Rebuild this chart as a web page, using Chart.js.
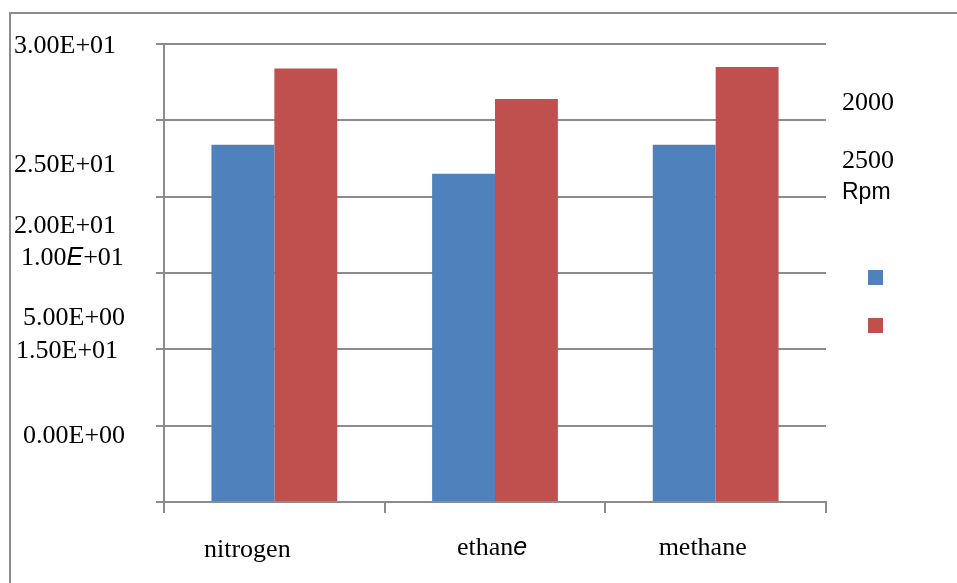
<!DOCTYPE html>
<html>
<head>
<meta charset="utf-8">
<script src="https://cdn.jsdelivr.net/npm/chart.js@4.4.1/dist/chart.umd.min.js"></script>
<style>
  html, body { margin: 0; padding: 0; background: #ffffff; }
  #wrap { position: relative; width: 957px; height: 583px; }
</style>
</head>
<body>
<div id="wrap"><canvas id="c" width="957" height="583"></canvas></div>
<script>
// ---- data ----
const categories = ['nitrogen', 'ethane', 'methane'];
const seriesNames = ['2000', '2500'];
const rpm2000 = [23.4, 21.5, 23.4];
const rpm2500 = [28.4, 26.4, 28.5];
const legendTitle = 'Rpm';
// tick labels as printed in the source (out of order there)
const yTickLabels = ['3.00E+01', '2.50E+01', '2.00E+01', '1.00E+01', '5.00E+00', '1.50E+01', '0.00E+00'];

const BLUE = '#4f81bd';
const RED = '#c0504d';
const GRID = '#8c8c8c';
const SERIF = '"Liberation Serif", "Times New Roman", serif';
const SANS = '"Liberation Sans", Arial, sans-serif';

// draw a string where parts can have their own font
function drawRich(ctx, parts, x, y) {
  let cx = x;
  parts.forEach(p => {
    ctx.font = p.font;
    ctx.fillText(p.text, cx, y);
    cx += ctx.measureText(p.text).width;
  });
}

const textPlugin = {
  id: 'textPlugin',
  beforeDraw(chart) {
    const ctx = chart.ctx;
    ctx.save();
    ctx.strokeStyle = GRID;
    ctx.lineWidth = 2;
    ctx.beginPath();
    ctx.moveTo(10, 583);
    ctx.lineTo(10, 13);
    ctx.lineTo(957, 13);
    ctx.stroke();
    ctx.restore();
  },
  afterDraw(chart) {
    const ctx = chart.ctx;
    const area = chart.chartArea;
    ctx.save();
    ctx.fillStyle = '#000';
    ctx.textBaseline = 'alphabetic';
    ctx.textAlign = 'left';
    const serif = '26px ' + SERIF;
    const itSans = 'italic 25px ' + SANS;
    // left labels (positions relative to plot area)
    const L = area.left, T = area.top;
    const yPos = [
      [L - 150, T + 9], [L - 150, T + 128], [L - 150, T + 189],
      [L - 143, T + 221], [L - 141, T + 281], [L - 148, T + 314], [L - 141, T + 399]
    ];
    yTickLabels.forEach((lab, i) => {
      const [x, y] = yPos[i];
      if (lab.indexOf('E') >= 0 && i === 3) {
        const k = lab.indexOf('E');
        drawRich(ctx, [
          { text: lab.slice(0, k), font: serif },
          { text: 'E', font: itSans },
          { text: lab.slice(k + 1), font: serif }
        ], x, y);
      } else {
        ctx.font = serif;
        ctx.fillText(lab, x, y);
      }
    });
    // category labels
    const xs = chart.scales.x;
    const catOff = [-27, -38, -44];
    const catY = area.bottom + 55;
    categories.forEach((cat, i) => {
      const cxp = xs.getPixelForValue(i);
      if (cat === 'ethane') {
        const pre = cat.slice(0, -1);
        ctx.font = serif;
        const w1 = ctx.measureText(pre).width;
        ctx.font = itSans;
        const w2 = ctx.measureText('e').width;
        drawRich(ctx, [{ text: pre, font: serif }, { text: 'e', font: itSans }], cxp - (w1 + w2) / 2 - 3, catY - 2);
      } else {
        ctx.font = serif;
        const w = ctx.measureText(cat).width;
        ctx.fillText(cat, cxp - w / 2 + (i === 0 ? -27 : -13), catY + (i === 0 ? 0 : -2));
      }
    });
    // right legend
    const R = area.right;
    ctx.font = serif;
    ctx.fillText(seriesNames[0], R + 16, T + 66);
    ctx.fillText(seriesNames[1], R + 16, T + 124);
    ctx.font = '23px ' + SANS;
    ctx.fillText(legendTitle, R + 16, T + 155);
    chart.data.datasets.forEach((ds, i) => {
      ctx.fillStyle = ds.backgroundColor;
      ctx.fillRect(R + 42, T + 226 + i * 48, 15, 15);
    });
    ctx.restore();
  }
};

new Chart(document.getElementById('c'), {
  type: 'bar',
  data: {
    labels: categories,
    datasets: [
      { label: seriesNames[0], data: rpm2000, backgroundColor: BLUE, borderWidth: 0 },
      { label: seriesNames[1], data: rpm2500, backgroundColor: RED, borderWidth: 0 }
    ]
  },
  options: {
    responsive: false,
    animation: false,
    events: [],
    layout: { padding: { left: 0, right: 131, top: 44, bottom: 0 } },
    plugins: { legend: { display: false }, tooltip: { enabled: false } },
    datasets: { bar: { categoryPercentage: 0.57, barPercentage: 1.0 } },
    scales: {
      x: {
        offset: true,
        grid: { offset: true, drawOnChartArea: false, drawTicks: true, tickLength: 11, color: GRID, lineWidth: 2 },
        border: { display: true, color: GRID, width: 2 },
        ticks: { display: false },
        afterFit(s) { s.height = 81; }
      },
      y: {
        min: 0, max: 30,
        ticks: { display: false, stepSize: 5 },
        grid: { color: GRID, lineWidth: 2, drawTicks: true, tickLength: 8 },
        border: { display: true, color: GRID, width: 2 },
        afterFit(s) { s.width = 164; }
      }
    }
  },
  plugins: [textPlugin]
});
</script>
</body>
</html>
